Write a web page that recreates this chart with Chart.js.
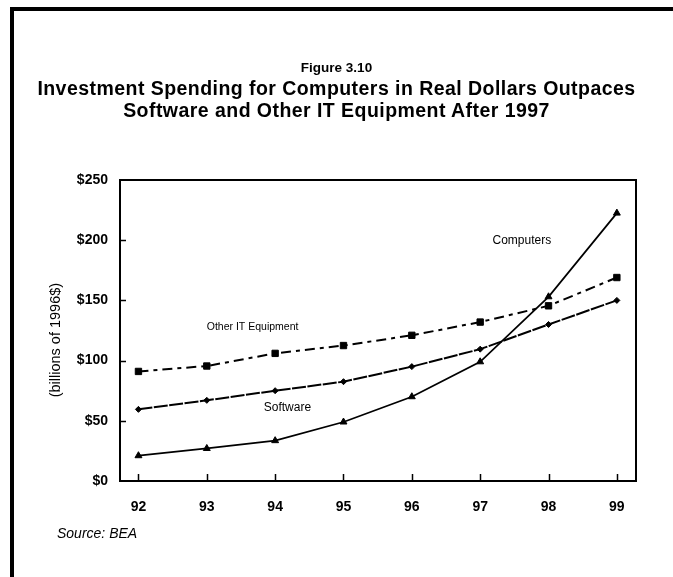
<!DOCTYPE html>
<html>
<head>
<meta charset="utf-8">
<script src="https://cdn.jsdelivr.net/npm/chart.js@4"></script>
<style>
  html, body { margin: 0; padding: 0; background: #fff; }
  body { width: 673px; height: 577px; position: relative; overflow: hidden; font-family: "Liberation Sans", Arial, sans-serif; }
  #c { position: absolute; left: 0; top: 0; }
  .bt { position: absolute; left: 10px; top: 7px; width: 663px; height: 4px; background: #000; }
  .bl { position: absolute; left: 10px; top: 7px; width: 4px; height: 570px; background: #000; }
  .t { position: absolute; left: 0; width: 673px; text-align: center; font-weight: bold; color: #000; white-space: nowrap; }
  #fig { top: 60px; font-size: 13.5px; }
  #main { top: 78px; font-size: 19.5px; line-height: 21.5px; letter-spacing: 0.45px; }
  #src { position: absolute; left: 57px; top: 525px; font-size: 14px; font-style: italic; color: #000; }
</style>
</head>
<body>
<canvas id="c" width="673" height="577"></canvas>
<div class="bt"></div>
<div class="bl"></div>
<div class="t" id="fig">Figure 3.10</div>
<div class="t" id="main">Investment Spending for Computers in Real Dollars Outpaces<br>Software and Other IT Equipment After 1997</div>
<div id="src">Source: BEA</div>
<script>
// ---- data ----
const years = [92, 93, 94, 95, 96, 97, 98, 99];
const xTickLabels = ['92', '93', '94', '95', '96', '97', '98', '99'];
const computers = [21, 27, 33.5, 49, 70, 99, 153, 222.5];
const software = [59.5, 67, 75, 82.5, 95, 109.5, 130, 150];
const otherIT = [91, 95.5, 106, 112.5, 121, 132, 145.5, 169];
const yTicks = [0, 50, 100, 150, 200, 250];
const yAxisTitle = '(billions of 1996$)';

// in-plot series labels (data coordinates)
const seriesLabels = [
  { text: 'Other IT Equipment', x: 93.67, y: 128, size: 10.5 },
  { text: 'Software', x: 94.18, y: 61, size: 12 },
  { text: 'Computers', x: 97.61, y: 199.5, size: 12 }
];

const pts = arr => years.map((yr, i) => ({ x: yr, y: arr[i] }));

const framePlugin = {
  id: 'frame',
  afterDatasetsDraw(chart) {
    const { ctx, chartArea: a, scales } = chart;
    ctx.save();
    ctx.strokeStyle = '#000';
    ctx.lineWidth = 1.5;
    ctx.beginPath();
    years.forEach(v => {
      const px = Math.round(scales.x.getPixelForValue(v)) + 0.5;
      ctx.moveTo(px, a.bottom);
      ctx.lineTo(px, a.bottom - 7);
    });
    yTicks.slice(1, -1).forEach(v => {
      const py = Math.round(scales.y.getPixelForValue(v)) + 0.5;
      ctx.moveTo(a.left, py);
      ctx.lineTo(a.left + 6, py);
    });
    ctx.stroke();
    ctx.lineWidth = 2;
    ctx.strokeRect(a.left, a.top, a.right - a.left, a.bottom - a.top);
    ctx.fillStyle = '#000';
    ctx.textAlign = 'center';
    ctx.textBaseline = 'middle';
    seriesLabels.forEach(l => {
      ctx.font = l.size + 'px "Liberation Sans", Arial, sans-serif';
      ctx.fillText(l.text, scales.x.getPixelForValue(l.x), scales.y.getPixelForValue(l.y));
    });
    // y axis title
    ctx.font = '14.5px "Liberation Sans", Arial, sans-serif';
    ctx.translate(56, scales.y.getPixelForValue(117));
    ctx.rotate(-Math.PI / 2);
    ctx.fillText(yAxisTitle, 0, 0);
    ctx.restore();
  }
};

new Chart(document.getElementById('c'), {
  type: 'line',
  data: {
    datasets: [
      {
        label: 'Computers', data: pts(computers),
        borderColor: '#000', backgroundColor: '#000', borderWidth: 1.75,
        pointStyle: 'triangle', pointRadius: 4, pointBorderWidth: 1, tension: 0
      },
      {
        label: 'Software', data: pts(software),
        borderColor: '#000', backgroundColor: '#000', borderWidth: 2, borderDash: [14, 1.5],
        pointStyle: 'rectRot', pointRadius: 3, pointBorderWidth: 1, tension: 0
      },
      {
        label: 'Other IT Equipment', data: pts(otherIT),
        borderColor: '#000', backgroundColor: '#000', borderWidth: 2, borderDash: [10, 5, 4, 5],
        pointStyle: 'rect', pointRadius: 4.5, pointBorderWidth: 1, tension: 0
      }
    ]
  },
  options: {
    responsive: false,
    devicePixelRatio: 1,
    animation: false,
    layout: { padding: { left: 40, top: 180, right: 37, bottom: 56 } },
    plugins: { legend: { display: false }, tooltip: { enabled: false }, title: { display: false } },
    scales: {
      x: {
        type: 'linear', min: 91.73, max: 99.28,
        afterBuildTicks: s => { s.ticks = years.map(v => ({ value: v })); },
        afterFit: s => { s.height = 40; },
        grid: { display: false, drawTicks: false },
        border: { display: false },
        ticks: {
          padding: 18, color: '#000',
          font: { family: '"Liberation Sans", Arial, sans-serif', size: 14, weight: 'bold' },
          callback: v => xTickLabels[years.indexOf(v)]
        }
      },
      y: {
        min: 0, max: 250,
        afterBuildTicks: s => { s.ticks = yTicks.map(v => ({ value: v })); },
        afterFit: s => { s.width = 80; },
        grid: { display: false, drawTicks: false },
        border: { display: false },
        ticks: {
          padding: 12, color: '#000',
          font: { family: '"Liberation Sans", Arial, sans-serif', size: 14, weight: 'bold' },
          callback: v => '$' + v
        }
      }
    }
  },
  plugins: [framePlugin]
});
</script>
</body>
</html>
